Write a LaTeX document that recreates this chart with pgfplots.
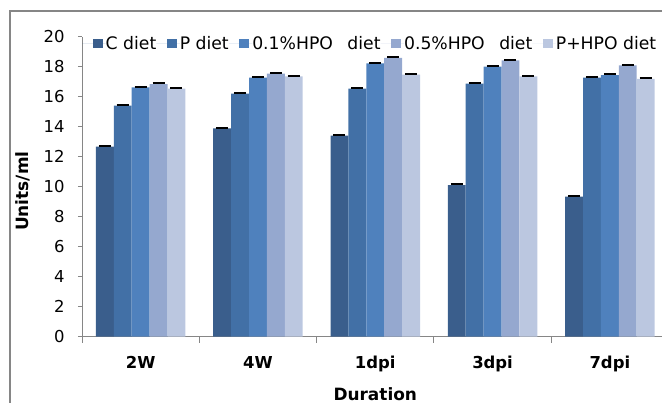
\documentclass[border=0pt]{standalone}
\usepackage{fontspec}
\setmainfont{DejaVu Sans}
\usepackage{pgfplots}
\pgfplotsset{compat=1.18}
\definecolor{cC}{RGB}{58,94,140}
\definecolor{cP}{RGB}{66,112,166}
\definecolor{cA}{RGB}{79,129,189}
\definecolor{cB}{RGB}{149,168,207}
\definecolor{cD}{RGB}{187,199,224}
\definecolor{axgray}{RGB}{134,134,134}
\pgfplotsset{errs/.style={error bars/.cd, y dir=plus, y explicit,
  error mark options={rotate=90, draw=black, line width=2bp, mark size=6bp},
  error bar style={draw=black, line width=1bp}}}
\begin{document}
\begin{tikzpicture}
\useasboundingbox (0,0) rectangle (662bp,403bp);
\draw[axgray, line width=1.2bp] (10bp,0) -- (10bp,392bp) -- (662bp,392bp);
\begin{axis}[
  at={(82bp,66.3bp)}, anchor=south west,
  scale only axis, width=586.5bp, height=300bp,
  xmin=-0.5, xmax=4.5, ymin=0, ymax=20,
  ytick={0,2,...,20},
  xtick={0,1,2,3,4},
  xticklabels={2W,4W,1dpi,3dpi,7dpi},
  minor xtick={-0.5,0.5,1.5,2.5,3.5,4.5},
  axis lines*=left,
  axis line style={axgray, line width=1bp},
  tick align=outside,
  major tick length=4bp, minor tick length=6bp,
  major x tick style={draw=none},
  minor x tick style={draw=axgray, line width=1bp},
  ytick style={draw=axgray, line width=1bp},
  /pgf/number format/assume math mode=true,
  ticklabel style={font=\fontsize{16.5}{18}\selectfont},
  xticklabel style={font=\bfseries\fontsize{16.5}{18}\selectfont, yshift=-12bp},
  yticklabel style={xshift=-10bp},
  ylabel={Units/ml},
  ylabel style={font=\bfseries\fontsize{17}{19}\selectfont, at={(axis description cs:-0.1014,0.485)}, anchor=center},
  xlabel={Duration},
  xlabel style={font=\bfseries\fontsize{17}{19}\selectfont, at={(axis description cs:0.5,-0.19)}, anchor=center},
  ybar=0pt, bar width=0.1526,
  legend columns=-1,
  legend style={draw=none, fill=none, at={(axis description cs:0,0.977)}, anchor=west,
    inner sep=0pt, column sep=0pt, font=\fontsize{17.3}{19}\selectfont, nodes={inner sep=0pt}},
  legend image code/.code={\path (-10.5bp,0) -- (13bp,0);\fill[#1] (0bp,-4.5bp) rectangle (10bp,4.5bp);},
]
\addplot[fill=cC, draw=none, errs] coordinates {(0,12.67) +- (0,0.05) (1,13.89) +- (0,0.05) (2,13.40) +- (0,0.05) (3,10.11) +- (0,0.05) (4,9.33) +- (0,0.05)};
\addplot[fill=cP, draw=none, errs] coordinates {(0,15.40) +- (0,0.05) (1,16.20) +- (0,0.05) (2,16.53) +- (0,0.05) (3,16.87) +- (0,0.05) (4,17.27) +- (0,0.05)};
\addplot[fill=cA, draw=none, errs] coordinates {(0,16.62) +- (0,0.05) (1,17.27) +- (0,0.05) (2,18.22) +- (0,0.05) (3,18.00) +- (0,0.05) (4,17.44) +- (0,0.05)};
\addplot[fill=cB, draw=none, errs] coordinates {(0,16.84) +- (0,0.05) (1,17.53) +- (0,0.05) (2,18.58) +- (0,0.05) (3,18.42) +- (0,0.05) (4,18.09) +- (0,0.05)};
\addplot[fill=cD, draw=none, errs] coordinates {(0,16.53) +- (0,0.05) (1,17.36) +- (0,0.05) (2,17.47) +- (0,0.05) (3,17.36) +- (0,0.05) (4,17.18) +- (0,0.05)};
\legend{C diet, P diet, 0.1\%HPO\hspace{14.5bp}diet, 0.5\%HPO\hspace{14.5bp}diet, P+HPO diet}
\end{axis}
\end{tikzpicture}
\end{document}
